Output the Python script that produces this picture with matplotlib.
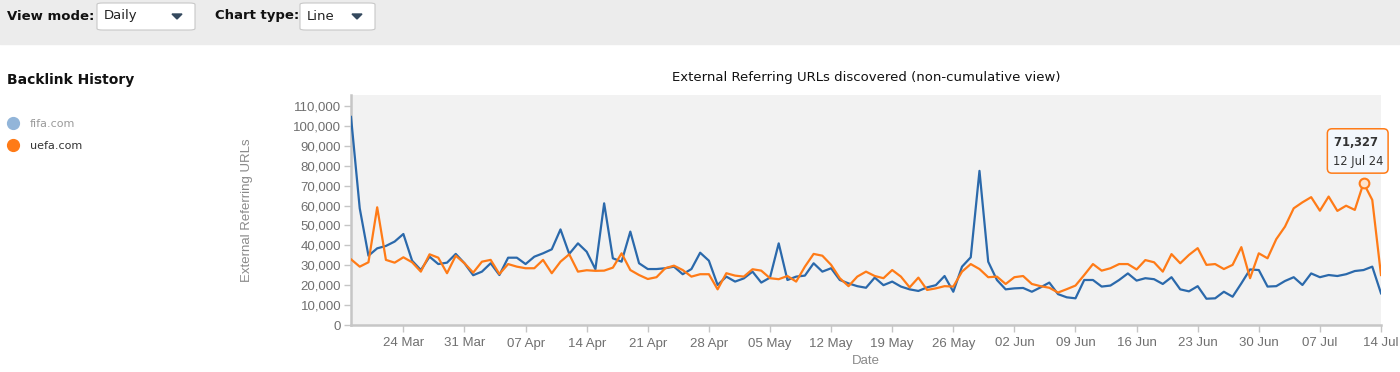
import numpy as np
import pandas as pd
import matplotlib
matplotlib.use('Agg')
import matplotlib.pyplot as plt
import matplotlib.dates as mdates
from matplotlib.patches import Rectangle, FancyBboxPatch, Polygon
from matplotlib.ticker import MultipleLocator, FuncFormatter

# daily data, 18 Mar 2024 .. 14 Jul 2024
start_date = '2024-03-18'
fifa = [104500, 58600, 34800, 38500, 39700, 41900, 45700, 32300, 27600, 34300,
        30600, 31300, 35700, 31000, 25000, 26800, 31000, 25100, 33800, 33800,
        30600, 34300, 36000, 38000, 48000, 35700, 41000, 36800, 28000, 61100,
        33500, 31800, 46900, 31000, 28100, 28100, 28500, 29300, 25500, 28100,
        36300, 32300, 20100, 24300, 21800, 23400, 26800, 21300, 23800, 41000,
        22600, 24300, 24800, 31000, 26800, 28500, 22600, 20900, 19500, 18700,
        23800, 20000, 21800, 19300, 17900, 17100, 18900, 20000, 24600, 16700,
        29300, 34000, 77400, 31800, 22600, 17900, 18400, 18600, 16700, 18900,
        21300, 15500, 13900, 13400, 22600, 22600, 19300, 19800, 22600, 25900,
        22300, 23500, 23000, 20600, 24000, 17900, 16900, 19500, 13200, 13400,
        16700, 14200, 20900, 27900, 27600, 19300, 19500, 22100, 24000, 20100,
        25900, 24000, 25100, 24600, 25500, 27100, 27600, 29300, 15900]
uefa = [33000, 29300, 31500, 59100, 32700, 31300, 34000, 31500, 26800, 35500,
        33800, 26000, 34800, 31000, 26300, 31800, 32700, 25600, 30600, 29300,
        28500, 28500, 32700, 26000, 31800, 35500, 26800, 27500, 27200, 27300,
        28800, 36000, 27600, 25100, 23100, 24000, 28500, 29800, 27600, 24300,
        25500, 25500, 17900, 26000, 24800, 24300, 28000, 27300, 23500, 23000,
        24600, 21800, 29300, 35700, 34800, 30200, 23500, 19500, 24300, 26800,
        24600, 23500, 27600, 24300, 18900, 23800, 17600, 18400, 19500, 19300,
        26800, 30600, 28100, 24000, 24300, 20600, 24000, 24600, 20600, 19500,
        18700, 16300, 18000, 19800, 25100, 30600, 27300, 28500, 30600, 30600,
        27900, 32600, 31500, 26800, 35600, 31000, 35200, 38600, 30200, 30600,
        28100, 30200, 39100, 23500, 36000, 33500, 43100, 49400, 58600, 61600,
        64200, 57400, 64500, 57300, 59900, 57800, 71327, 62800, 25100]
dates = pd.date_range(start_date, periods=len(fifa), freq='D')

highlight_date = '2024-07-12'

blue = '#2b69ab'
orange = '#ff7b17'
tick_col = '#6f6f6f'

W, H = 1400, 372
fig = plt.figure(figsize=(W / 100, H / 100), dpi=100)


def fx(px):
    return px / W


def fy(py):
    return 1 - py / H


# top toolbar
fig.add_artist(Rectangle((0, fy(44)), 1, 44 / H, transform=fig.transFigure,
                         color='#ececec', zorder=0))
fig.text(fx(7), fy(16), 'View mode:', fontsize=9.5, fontweight='bold',
         family='DejaVu Sans', va='center', color='#111111')
fig.text(fx(215), fy(16), 'Chart type:', fontsize=9.5, fontweight='bold',
         family='DejaVu Sans', va='center', color='#111111')
for x0, x1, label in [(97, 195, 'Daily'), (300, 375, 'Line')]:
    fig.add_artist(FancyBboxPatch((fx(x0), fy(30)), fx(x1 - x0), 27 / H,
                                  boxstyle='round,pad=0,rounding_size=0.004',
                                  transform=fig.transFigure, fc='white',
                                  ec='#c8c8c8', lw=0.8))
    fig.text(fx(x0 + 7), fy(16), label, fontsize=9.5, family='DejaVu Sans',
             va='center', color='#222222')
    tx = x1 - 18
    fig.add_artist(Polygon([(fx(tx - 5), fy(14)), (fx(tx + 5), fy(14)),
                            (fx(tx), fy(19))], closed=True,
                           transform=fig.transFigure, color='#34495e'))

# left legend block
fig.text(fx(7), fy(80), 'Backlink History', fontsize=10, fontweight='bold',
         family='DejaVu Sans', va='center', color='#111111')
leg = [('fifa.com', '#92b5d9', '#9a9a9a'), ('uefa.com', orange, '#333333')]
for k, (name, dot, txt) in enumerate(leg):
    yy = 123 + 22 * k
    fig.add_artist(plt.Line2D([fx(13)], [fy(yy)], marker='o', ms=8.5,
                              color=dot, transform=fig.transFigure))
    fig.text(fx(30), fy(yy + 1), name, fontsize=8, family='DejaVu Sans',
             va='center', color=txt)

# chart
ax = fig.add_axes([fx(351), fy(325), fx(1381 - 351), (325 - 95) / H])
ax.set_facecolor('#f2f2f2')
ax.plot(dates, fifa, color=blue, lw=1.6, zorder=3)
ax.plot(dates, uefa, color=orange, lw=1.6, zorder=4)

hd = pd.Timestamp(highlight_date)
hv = uefa[list(dates).index(hd)]
ax.plot([hd], [hv], marker='o', ms=7, mfc='#fde3cc', mec=orange, mew=1.5,
        zorder=5)
ax.annotate('$\\mathbf{71{,}327}$\n12 Jul 24', xy=(hd, hv),
            xytext=(-31, 15), textcoords='offset pixels', fontsize=8.3,
            family='DejaVu Sans', color='#333333', va='bottom', ha='left',
            linespacing=1.5, annotation_clip=False, zorder=6,
            bbox=dict(boxstyle='round,pad=0.45,rounding_size=0.4',
                      fc='#f3f7fc', ec=orange, lw=1.1))

ax.set_xlim(dates[0], dates[-1])
ax.set_ylim(0, 115500)
ax.xaxis.set_major_locator(mdates.WeekdayLocator(byweekday=mdates.SU))
ax.xaxis.set_major_formatter(mdates.DateFormatter('%d %b'))
ax.yaxis.set_major_locator(MultipleLocator(10000))
ax.yaxis.set_major_formatter(FuncFormatter(lambda v, p: f'{int(v):,}'))

for s in ['top', 'right']:
    ax.spines[s].set_visible(False)
for s in ['left', 'bottom']:
    ax.spines[s].set_color('#c6c6c6')
    ax.spines[s].set_linewidth(1.8)
ax.tick_params(axis='both', colors='#c6c6c6', labelcolor=tick_col,
               labelsize=9.5, length=5, width=1)
ax.tick_params(axis='x', pad=4)
ax.tick_params(axis='y', pad=2)
for lab in ax.get_xticklabels() + ax.get_yticklabels():
    lab.set_family('Liberation Sans')

ax.set_title('External Referring URLs discovered (non-cumulative view)',
             fontsize=9.5, family='DejaVu Sans', color='#111111', pad=10)
ax.set_ylabel('External Referring URLs', fontsize=9.5, color='#8a8a8a',
              family='Liberation Sans', labelpad=29)
ax.set_xlabel('Date', fontsize=9.5, color='#8a8a8a', family='Liberation Sans',
              labelpad=4)

fig.savefig('out.png', dpi=100)
